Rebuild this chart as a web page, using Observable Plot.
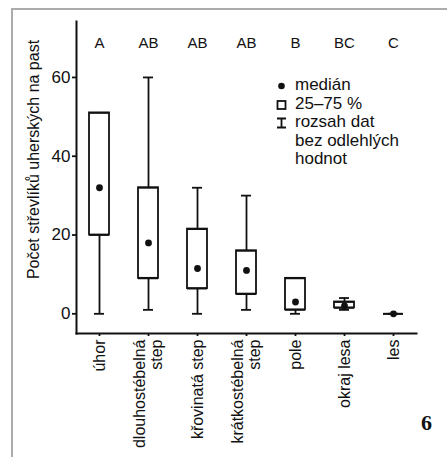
<!DOCTYPE html>
<html><head><meta charset="utf-8">
<script src="https://cdn.jsdelivr.net/npm/d3@7"></script>
<script src="https://cdn.jsdelivr.net/npm/@observablehq/plot@0.6"></script>
<style>
body{margin:0;background:#fff;}
#wrap{position:relative;width:447px;height:457px;overflow:hidden;font-family:"Liberation Sans",Arial,sans-serif;color:#111;}
#border{position:absolute;left:11px;top:8px;right:-5px;bottom:-5px;border-top:2px solid #ababab;border-left:2px solid #ababab;}
#chart{position:absolute;left:0;top:0;}
#legend{position:absolute;left:276px;top:76px;font-size:17px;line-height:18.6px;}
#legend .row{position:relative;padding-left:19px;white-space:nowrap;}
#legend svg{position:absolute;left:0;top:0;}
#fig{position:absolute;left:421px;top:410px;font-family:"Liberation Serif","Times New Roman",serif;font-weight:bold;font-size:22px;}
</style></head>
<body>
<div id="wrap">
  <div id="border"></div>
  <div id="chart"></div>
  <div id="legend">
    <div class="row"><svg width="12" height="19"><circle cx="5.5" cy="10" r="3.3" fill="#111"/></svg>medián</div>
    <div class="row"><svg width="12" height="19"><rect x="1.5" y="6" width="8" height="8" fill="none" stroke="#111" stroke-width="1.8"/></svg>25–75 %</div>
    <div class="row"><svg width="12" height="19"><path d="M1,5.5H10M5.5,5.5V14.5M1,14.5H10" fill="none" stroke="#111" stroke-width="1.8"/></svg>rozsah dat</div>
    <div class="row">bez odlehlých</div>
    <div class="row">hodnot</div>
  </div>
  <div id="fig">6</div>
</div>
<script>
const categories = ["úhor", "dlouhostébelná\nstep", "křovinatá step", "krátkostébelná\nstep", "pole", "okraj lesa", "les"];
const letters = ["A", "AB", "AB", "AB", "B", "BC", "C"];
const medians = [32, 18, 11.5, 11, 3, 2, 0];
const q1 = [20, 9, 6.4, 5, 1, 1.5, 0];
const q3 = [51, 32, 21.5, 16, 9, 3, 0];
const mins = [0, 1, 0, 1, 0, 1, 0];
const maxs = [51, 60, 32, 30, 9, 4, 0];
const yTicks = [0, 20, 40, 60];
const yLabel = "Počet střevlíků uherských na past";

const data = categories.map((c, i) => ({cat: c, letter: letters[i], median: medians[i], q1: q1[i], q3: q3[i], min: mins[i], max: maxs[i]}));

const sw = 1.8;
const chart = Plot.plot({
  width: 447, height: 457,
  marginTop: 21, marginBottom: 124, marginLeft: 76, marginRight: 31,
  style: {fontFamily: "Liberation Sans, Arial, sans-serif", background: "transparent", color: "#111"},
  x: {type: "band", domain: categories, paddingInner: 0.59, paddingOuter: 0.2575, label: null},
  y: {domain: [-5, 74.2], label: null},
  marks: [
    Plot.axisY({ticks: yTicks, tickSize: 4, tickPadding: 2, fontSize: 17, strokeWidth: sw, label: null}),
    Plot.axisX({tickSize: 3, tickPadding: 3, tickRotate: -90, fontSize: 16, lineHeight: 1.05, strokeWidth: sw, label: null}),
    Plot.ruleX(data, {x: "cat", y1: "q3", y2: "max", strokeWidth: sw}),
    Plot.ruleX(data, {x: "cat", y1: "min", y2: "q1", strokeWidth: sw}),
    Plot.tickY(data, {x: "cat", y: "min", insetLeft: 5, insetRight: 5, strokeWidth: sw}),
    Plot.tickY(data, {x: "cat", y: "max", insetLeft: 5, insetRight: 5, strokeWidth: sw}),
    Plot.rect(data, {x: "cat", y1: "q1", y2: "q3", fill: "white", stroke: "#111", strokeWidth: sw}),
    Plot.tickY(data, {x: "cat", y: "q1", strokeWidth: sw}),
    Plot.tickY(data, {x: "cat", y: "q3", strokeWidth: sw}),
    Plot.dot(data, {x: "cat", y: "median", r: 3.4, fill: "#111"}),
    Plot.text(data, {x: "cat", text: "letter", frameAnchor: "top", lineAnchor: "middle", dy: 22, fontSize: 15}),
    Plot.text([yLabel], {frameAnchor: "left", textAnchor: "middle", lineAnchor: "middle", rotate: -90, dx: -43, dy: -18, fontSize: 16}),
    Plot.frame({anchor: "left", strokeWidth: 2}),
    Plot.frame({anchor: "bottom", strokeWidth: 2})
  ]
});
document.getElementById("chart").appendChild(chart);
</script>
</body></html>
